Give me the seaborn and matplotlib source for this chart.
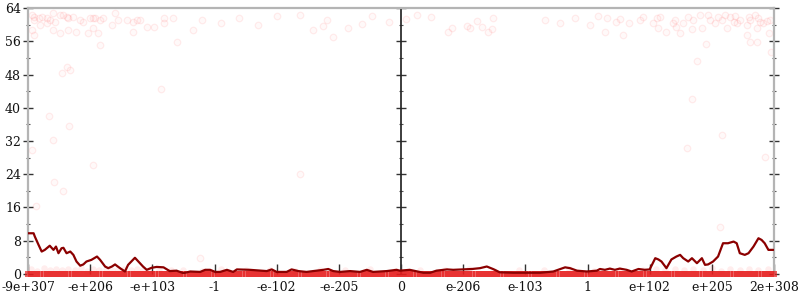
import matplotlib
matplotlib.use("Agg")
import matplotlib.pyplot as plt
import pandas as pd
import seaborn as sns

# ---------------- data ----------------
tick_pos = [-6, -5, -4, -3, -2, -1, 0, 1, 2, 3, 4, 5, 6]
tick_labels = ["-9e+307", "-e+206", "-e+103", "-1", "-e-102", "-e-205", "0",
               "e-206", "e-103", "1", "e+102", "e+205", "2e+308"]
y_ticks = [0, 8, 16, 24, 32, 40, 48, 56, 64]
y_minor = [4, 12, 20, 28, 36, 44, 52, 60]

# running average line
line_x = [-6.00, -5.91, -5.89, -5.83, -5.78, -5.73, -5.65, -5.59, -5.55, -5.51,
          -5.46, -5.43, -5.38, -5.32, -5.27, -5.22, -5.16, -5.11, -5.06, -4.98,
          -4.89, -4.84, -4.76, -4.71, -4.65, -4.60, -4.52, -4.44, -4.39, -4.28,
          -4.23, -4.15, -4.09, -4.01, -3.93, -3.82, -3.72, -3.61, -3.50, -3.39,
          -3.23, -3.15, -3.07, -2.99, -2.91, -2.80, -2.70, -2.64, -2.43, -2.16,
          -2.08, -2.00, -1.84, -1.76, -1.65, -1.52, -1.41, -1.25, -1.17, -1.09,
          -0.98, -0.82, -0.66, -0.55, -0.45, -0.23, -0.07, -0.02, 0.14, 0.36,
          0.47, 0.57, 0.74, 0.84, 1.00, 1.14, 1.27, 1.38, 1.48, 1.59,
          1.81, 2.02, 2.24, 2.45, 2.64, 2.72, 2.83, 2.99, 3.15, 3.20,
          3.28, 3.36, 3.44, 3.52, 3.63, 3.71, 3.82, 3.92, 4.00, 4.09,
          4.14, 4.19, 4.27, 4.35, 4.43, 4.49, 4.54, 4.62, 4.68, 4.76,
          4.84, 4.89, 4.94, 5.02, 5.10, 5.18, 5.26, 5.35, 5.40, 5.45,
          5.53, 5.59, 5.67, 5.75, 5.80, 5.85, 5.91, 5.99]
line_y = [9.8, 9.8, 9.0, 7.0, 5.4, 5.8, 6.8, 5.8, 6.6, 5.0,
          6.2, 6.3, 5.0, 5.4, 4.6, 3.0, 2.0, 2.3, 3.0, 3.4,
          4.2, 3.4, 1.8, 1.4, 1.8, 2.3, 1.4, 0.6, 2.2, 3.9,
          3.1, 1.8, 1.0, 1.5, 1.7, 1.6, 0.7, 0.8, 0.2, 0.6,
          0.5, 1.0, 1.0, 0.5, 0.5, 1.0, 0.5, 1.1, 1.0, 0.7,
          1.1, 0.5, 0.5, 1.1, 0.7, 0.5, 0.7, 1.0, 1.2, 0.7,
          0.5, 0.7, 0.5, 1.0, 0.5, 0.7, 1.0, 0.8, 1.0, 0.3,
          0.3, 0.8, 1.1, 1.0, 1.1, 1.2, 1.4, 1.8, 1.2, 0.4,
          0.3, 0.3, 0.3, 0.6, 1.6, 1.4, 0.8, 0.6, 0.8, 1.2,
          1.0, 1.3, 1.0, 1.3, 1.0, 0.6, 1.2, 1.0, 1.1, 3.8,
          3.5, 3.0, 1.4, 3.5, 4.2, 4.6, 3.8, 3.0, 3.8, 2.6,
          3.8, 2.2, 2.3, 3.0, 4.2, 7.4, 7.4, 7.8, 7.4, 5.0,
          4.6, 5.0, 6.6, 8.6, 8.2, 7.4, 5.8, 5.8]

# individual samples with large values
hi_x = [-5.94, -5.91, -5.91, -5.83, -5.78, -5.70, -5.65, -5.59, -5.57, -5.48,
        -5.43, -5.38, -5.35, -5.27, -5.16, -5.11, -5.00, -4.95, -4.92, -4.84,
        -4.79, -4.60, -4.55, -4.41, -4.31, -4.25, -4.20, -4.09, -3.98, -3.82,
        -3.82, -3.66, -3.34, -5.94, -5.91, -5.81, -5.70, -5.59, -5.48, -5.35,
        -5.22, -5.03, -4.95, -4.87, -4.84, -4.65, -4.31, -3.61,
        -3.20, -2.90, -2.60, -2.30, -2.00,
        -1.62, -1.41, -1.25, -1.19, -1.09, -0.85, -0.62, -0.46, -0.20, 0.08,
        0.25, 0.48, 0.76, 0.82, 1.06, 1.11, 1.22, 1.30, 1.40, 1.46, 1.48,
        2.32, 2.56, 2.80, 3.04, 3.17,
        3.31, 3.28, 3.46, 3.52, 3.57, 3.66, 3.84, 3.90, 4.06, 4.12,
        4.17, 4.14, 4.27, 4.38, 4.41, 4.43, 4.49, 4.54, 4.61, 4.68,
        4.70, 4.81, 4.84, 4.94, 4.97, 5.05, 5.10, 5.16, 5.21, 5.24,
        5.29, 5.35, 5.37, 5.40, 5.45, 5.56, 5.59, 5.61, 5.69, 5.75,
        5.77, 5.83, 5.88, 5.94, 5.72, 5.56, 5.61, 5.72, 5.92,
        -5.46, -5.38, -5.32, -3.86,
        -5.66, -5.34, -5.60, -5.94, -4.95, -5.58, -5.44, -5.87, -1.62,
        4.76, 4.90, 5.95, 4.68, 5.16, 4.60, 5.85, 5.13, -3.23]
hi_y = [62.3, 61.9, 61.1, 61.5, 61.9, 61.5, 61.1, 62.7, 60.7, 62.3,
        62.3, 61.9, 61.5, 61.9, 61.1, 60.7, 61.5, 61.5, 61.5, 61.1,
        61.5, 62.7, 61.1, 61.1, 60.7, 61.1, 61.1, 59.5, 59.5, 61.5,
        60.3, 61.5, 58.7, 58.7, 57.5, 59.9, 60.3, 58.7, 57.9, 58.7,
        58.3, 57.9, 59.1, 57.9, 55.1, 59.9, 58.3, 55.9,
        61.0, 60.5, 61.5, 60.0, 62.0,
        62.3, 58.7, 59.7, 61.0, 57.1, 59.2, 60.1, 62.1, 60.6, 61.4,
        62.3, 61.9, 58.3, 59.3, 59.7, 59.3, 60.9, 59.5, 58.3, 58.9, 61.5,
        61.0, 60.5, 61.5, 60.0, 62.0,
        61.5, 58.3, 60.7, 61.3, 57.5, 60.4, 61.1, 61.8, 60.3, 61.5,
        61.8, 59.1, 58.3, 60.4, 61.1, 59.5, 57.9, 60.3, 61.8, 58.9,
        61.1, 62.3, 59.3, 62.3, 61.1, 60.3, 61.9, 61.1, 62.3, 59.1,
        61.9, 60.7, 62.1, 60.4, 61.1, 59.9, 61.9, 61.1, 62.3, 61.5,
        60.7, 60.3, 60.9, 61.1, 59.1, 57.5, 55.9, 55.9, 57.9,
        48.4, 49.9, 49.1, 44.4,
        38.0, 35.6, 32.2, 29.8, 26.2, 22.1, 20.0, 16.4, 24.0,
        51.2, 55.3, 53.3, 42.0, 33.4, 30.3, 28.2, 11.4, 3.8]

# samples with small values
low_x = [-5.95, -5.85, -5.75, -5.65, -5.55, -5.45, -5.35, -5.25, -5.15, -5.05,
         -4.95, -4.85, -4.75, -4.65, -4.55, -4.45, -4.35, -4.25, -4.15, -4.05,
         -3.90, -3.70, -3.50, -3.20, -2.90, -2.50, -2.10, -1.70, -1.30, -0.90,
         -0.50, -0.10, 0.30, 0.70, 1.10, 1.50, 1.90, 2.30, 2.70, 3.10,
         3.50, 3.90, 4.10, 4.25, 4.40, 4.55, 4.70, 4.85, 5.00, 5.15,
         5.30, 5.45, 5.60, 5.75, 5.90]
low_y = [1.2, 0.8, 1.4, 1.0, 1.3, 0.9, 1.2, 1.0, 1.4, 0.8,
         1.2, 1.0, 1.3, 0.9, 1.1, 1.3, 0.9, 1.2, 1.0, 0.8,
         1.1, 0.9, 1.0, 0.8, 1.1, 0.9, 1.0, 0.8, 1.0, 0.9,
         1.1, 0.8, 1.0, 0.9, 1.1, 0.8, 1.0, 0.9, 1.1, 0.8,
         1.0, 0.9, 1.2, 1.0, 1.3, 0.9, 1.2, 1.0, 1.4, 0.8,
         1.2, 1.0, 1.3, 0.9, 1.1]

# samples that are exactly zero
zero_x = [-6.00, -5.95, -5.90, -5.85, -5.80, -5.75, -5.70, -5.65, -5.60, -5.55,
          -5.50, -5.45, -5.40, -5.35, -5.30, -5.25, -5.20, -5.15, -5.10, -5.05,
          -5.00, -4.95, -4.90, -4.85, -4.80, -4.75, -4.70, -4.65, -4.60, -4.55,
          -4.50, -4.45, -4.40, -4.35, -4.30, -4.25, -4.20, -4.15, -4.10, -4.05,
          -4.00, -3.95, -3.90, -3.85, -3.80, -3.75, -3.70, -3.65, -3.60, -3.55,
          -3.50, -3.45, -3.40, -3.35, -3.30, -3.25, -3.20, -3.15, -3.10, -3.05,
          -3.00, -2.95, -2.90, -2.85, -2.80, -2.75, -2.70, -2.65, -2.60, -2.55,
          -2.50, -2.45, -2.40, -2.35, -2.30, -2.25, -2.20, -2.15, -2.10, -2.05,
          -2.00, -1.95, -1.90, -1.85, -1.80, -1.75, -1.70, -1.65, -1.60, -1.55,
          -1.50, -1.45, -1.40, -1.35, -1.30, -1.25, -1.20, -1.15, -1.10, -1.05,
          -1.00, -0.95, -0.90, -0.85, -0.80, -0.75, -0.70, -0.65, -0.60, -0.55,
          -0.50, -0.45, -0.40, -0.35, -0.30, -0.25, -0.20, -0.15, -0.10, -0.05,
          0.00, 0.05, 0.10, 0.15, 0.20, 0.25, 0.30, 0.35, 0.40, 0.45,
          0.50, 0.55, 0.60, 0.65, 0.70, 0.75, 0.80, 0.85, 0.90, 0.95,
          1.00, 1.05, 1.10, 1.15, 1.20, 1.25, 1.30, 1.35, 1.40, 1.45,
          1.50, 1.55, 1.60, 1.65, 1.70, 1.75, 1.80, 1.85, 1.90, 1.95,
          2.00, 2.05, 2.10, 2.15, 2.20, 2.25, 2.30, 2.35, 2.40, 2.45,
          2.50, 2.55, 2.60, 2.65, 2.70, 2.75, 2.80, 2.85, 2.90, 2.95,
          3.00, 3.05, 3.10, 3.15, 3.20, 3.25, 3.30, 3.35, 3.40, 3.45,
          3.50, 3.55, 3.60, 3.65, 3.70, 3.75, 3.80, 3.85, 3.90, 3.95,
          4.00, 4.05, 4.10, 4.15, 4.20, 4.25, 4.30, 4.35, 4.40, 4.45,
          4.50, 4.55, 4.60, 4.65, 4.70, 4.75, 4.80, 4.85, 4.90, 4.95,
          5.00, 5.05, 5.10, 5.15, 5.20, 5.25, 5.30, 5.35, 5.40, 5.45,
          5.50, 5.55, 5.60, 5.65, 5.70, 5.75, 5.80, 5.85, 5.90, 5.95,
          6.00]
zero_y = [0.0] * len(zero_x)

# ---------------- plot ----------------
sns.set_theme(style="white")
plt.rcParams["font.family"] = ["DejaVu Serif"]

fig = plt.figure(figsize=(8, 3), dpi=100)
ax = fig.add_axes([0.035, 0.0867, 0.9325, 0.8866])

df_hi = pd.DataFrame({"x": hi_x, "y": hi_y})
df_low = pd.DataFrame({"x": low_x, "y": low_y})
df_zero = pd.DataFrame({"x": zero_x, "y": zero_y})
df_line = pd.DataFrame({"x": line_x, "y": line_y})

sns.scatterplot(data=df_hi, x="x", y="y", ax=ax, color=(1, 0, 0, 0.025),
                s=22, linewidth=0.9, edgecolor=(1, 0, 0, 0.07), legend=False)
sns.scatterplot(data=df_low, x="x", y="y", ax=ax, color=(1, 0, 0, 0.07),
                s=22, linewidth=0, legend=False, clip_on=False)
sns.scatterplot(data=df_zero, x="x", y="y", ax=ax, color=(0.9, 0.12, 0.12, 0.7),
                s=19, marker="s", linewidth=0, legend=False, clip_on=False,
                zorder=3)
sns.lineplot(data=df_line, x="x", y="y", ax=ax, color="#8b0000", linewidth=1.6,
             zorder=4)

ax.set_xlim(-6, 6)
ax.set_ylim(0, 64)
ax.set_xlabel("")
ax.set_ylabel("")
ax.set_xticks(tick_pos)
ax.set_xticklabels(tick_labels)
ax.set_yticks(y_ticks)
ax.set_yticks(y_minor, minor=True)

for side in ["left", "right", "top"]:
    ax.spines[side].set_visible(True)
    ax.spines[side].set_color("#b4b4b4")
    ax.spines[side].set_linewidth(1.6)
ax.spines["bottom"].set_visible(False)

ax.tick_params(axis="y", which="major", direction="inout", length=7, width=1,
               color="#333333", left=True, right=True, labelsize=9, pad=1.5,
               labelcolor="#111111")
ax.tick_params(axis="y", which="minor", direction="inout", length=3.5, width=0.8,
               color="#555555", left=True, right=True)
ax.tick_params(axis="x", which="major", direction="in", length=7, width=1,
               color="#333333", bottom=True, top=False, labelsize=9, pad=5,
               labelcolor="#111111")

# middle axis at zero
mid = ax.secondary_yaxis(0.5)
mid.set_yticks(y_ticks)
mid.set_yticks(y_minor, minor=True)
mid.set_yticklabels([])
mid.spines["left"].set_color("#b4b4b4")
mid.spines["left"].set_linewidth(1.6)
mid.tick_params(axis="y", which="major", direction="inout", length=7.5, width=1,
                color="#333333")
mid.tick_params(axis="y", which="minor", direction="inout", length=3.5, width=0.8,
                color="#555555")

fig.savefig("out.png", dpi=100)
